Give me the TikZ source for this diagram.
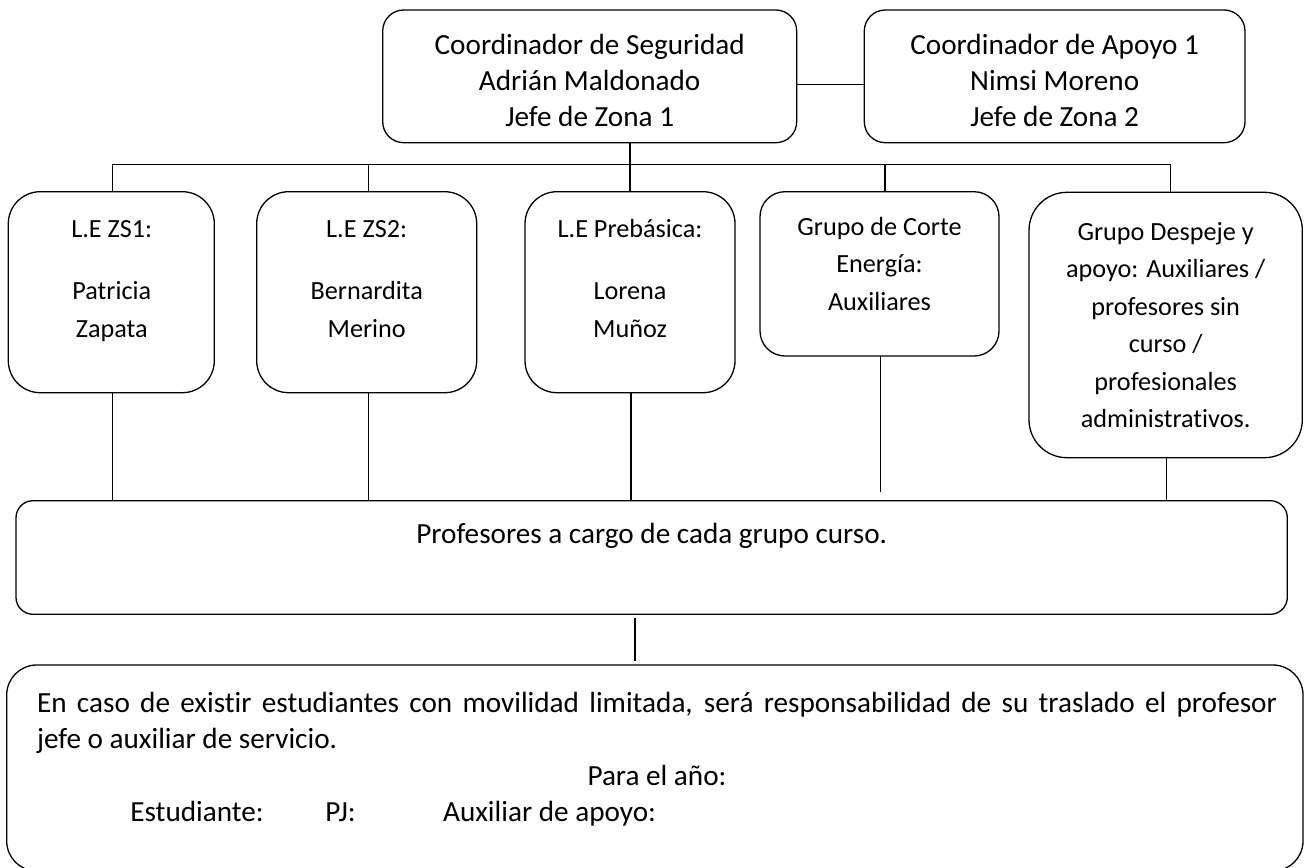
\documentclass[tikz,border=0pt]{standalone}
\usepackage{fontspec}
\setmainfont{Carlito}[Ligatures=NoCommon]
\newcommand\fl{\rule{0pt}{1em}}
\begin{document}
\begin{tikzpicture}[x=0.5pt,y=-0.5pt,
  box/.style={draw, line width=0.65pt, inner sep=0pt, outer sep=0pt},
  big/.style={font=\fontsize{14.6}{18}\selectfont},
  small/.style={font=\fontsize{13.1}{18.7}\selectfont},
  notefont/.style={font=\fontsize{14.6}{18.3}\selectfont},
  txt/.style={inner sep=0pt, align=center, anchor=north},
  conn/.style={line width=0.65pt}]
\useasboundingbox (0,0) rectangle (1304,867);

% boxes
\node[box, rounded corners=10.5pt, minimum width=207pt, minimum height=66.35pt] (topA) at (589.7,76.35) {};
\node[box, rounded corners=10.5pt, minimum width=190.35pt, minimum height=66.35pt] (topB) at (1054.65,76.35) {};
\node[box, rounded corners=16pt, minimum width=103pt, minimum height=100.5pt] (zs1) at (111.3,292.2) {};
\node[box, rounded corners=16pt, minimum width=110pt, minimum height=100.5pt] (zs2) at (366.7,292.2) {};
\node[box, rounded corners=16pt, minimum width=105pt, minimum height=100.5pt] (pre) at (630,292.2) {};
\node[box, rounded corners=12.5pt, minimum width=119.5pt, minimum height=82.15pt] (corte) at (879.5,273.85) {};
\node[box, rounded corners=19pt, minimum width=136.65pt, minimum height=132.7pt] (desp) at (1165.65,325) {};
\node[box, rounded corners=8.5pt, minimum width=635.65pt, minimum height=56.8pt] (prof) at (651.65,557.5) {};
\node[box, rounded corners=15pt, minimum width=648.15pt, minimum height=103pt] (note) at (654.85,768) {};

% texts
\node[txt, big] (topAtxt) at (589.7,25.1) {\fl Coordinador de Seguridad\\Adrián Maldonado\\Jefe de Zona 1};
\node[txt, big] (topBtxt) at (1054.65,25.1) {\fl Coordinador de Apoyo 1\\Nimsi Moreno\\Jefe de Zona 2};
\node[txt, small] (zs1txt) at (111.8,211.1) {\fl L.E ZS1:\\[12.3pt]Patricia\\Zapata};
\node[txt, small] (zs2txt) at (366.7,211.1) {\fl L.E ZS2:\\[12.3pt]Bernardita\\Merino};
\node[txt, small] (pretxt) at (630,211.1) {\fl L.E Prebásica:\\[12.3pt]Lorena\\Muñoz};
\node[txt, small] (cortetxt) at (879.5,208.8) {\fl Grupo de Corte\\Energía:\\Auxiliares};
\node[txt, small] (desptxt) at (1165.65,213.8) {\fl Grupo Despeje y\\apoyo: Auxiliares /\\profesores sin\\curso /\\profesionales\\administrativos.};
\node[inner sep=0pt, anchor=base, big] (proftxt) at (651.7,543.3) {Profesores a cargo de cada grupo curso.};
\node[inner sep=0pt, anchor=north west, align=left, notefont] (para) at (36.7,682.5)
  {\fl\makebox[620pt][s]{En caso de existir estudiantes con movilidad limitada, será responsabilidad de su traslado el profesor}\\jefe o auxiliar de servicio.};
\node[inner sep=0pt, anchor=base, notefont] (anio) at (657,785) {Para el año:};
\node[inner sep=0pt, anchor=base west, notefont] (est) at (130,821.7) {Estudiante:};
\node[inner sep=0pt, anchor=base west, notefont] (pj) at (325,821.7) {PJ:};
\node[inner sep=0pt, anchor=base west, notefont] (aux) at (442.7,821.7) {Auxiliar de apoyo:};

% connectors
\draw[conn] (topA.east |- 0,84.3) -- (topB.west |- 0,84.3);
\coordinate (busL) at (112.8,164.3);
\coordinate (busR) at (1170.7,164.3);
\draw[conn] (busL) -- (busR);
\draw[conn] (busL) -- (busL |- zs1.north);
\coordinate (z2T) at ([xshift=1pt]zs2.north);
\draw[conn] (z2T) -- (z2T |- busL);
\draw[conn] (topA.south -| pre.north) -- (pre.north);
\coordinate (cT) at ([xshift=2.75pt]corte.north);
\draw[conn] (cT) -- (cT |- busL);
\draw[conn] (busR) -- (busR |- desp.north);

\coordinate (z1B) at ([xshift=0.7pt]zs1.south);
\draw[conn] (z1B) -- (z1B |- prof.north);
\coordinate (z2B) at ([xshift=1pt]zs2.south);
\draw[conn] (z2B) -- (z2B |- prof.north);
\coordinate (pB) at ([xshift=0.5pt]pre.south);
\draw[conn] (pB) -- (pB |- prof.north);
\coordinate (cE) at (880.7,491.7);
\draw[conn] (corte.south -| cE) -- (cE);
\coordinate (dB) at ([xshift=0.5pt]desp.south);
\draw[conn] (dB) -- (dB |- prof.north);
\coordinate (g1) at (635,618.3);
\coordinate (g2) at (635,661);
\draw[conn] (g1) -- (g2);
\end{tikzpicture}
\end{document}
